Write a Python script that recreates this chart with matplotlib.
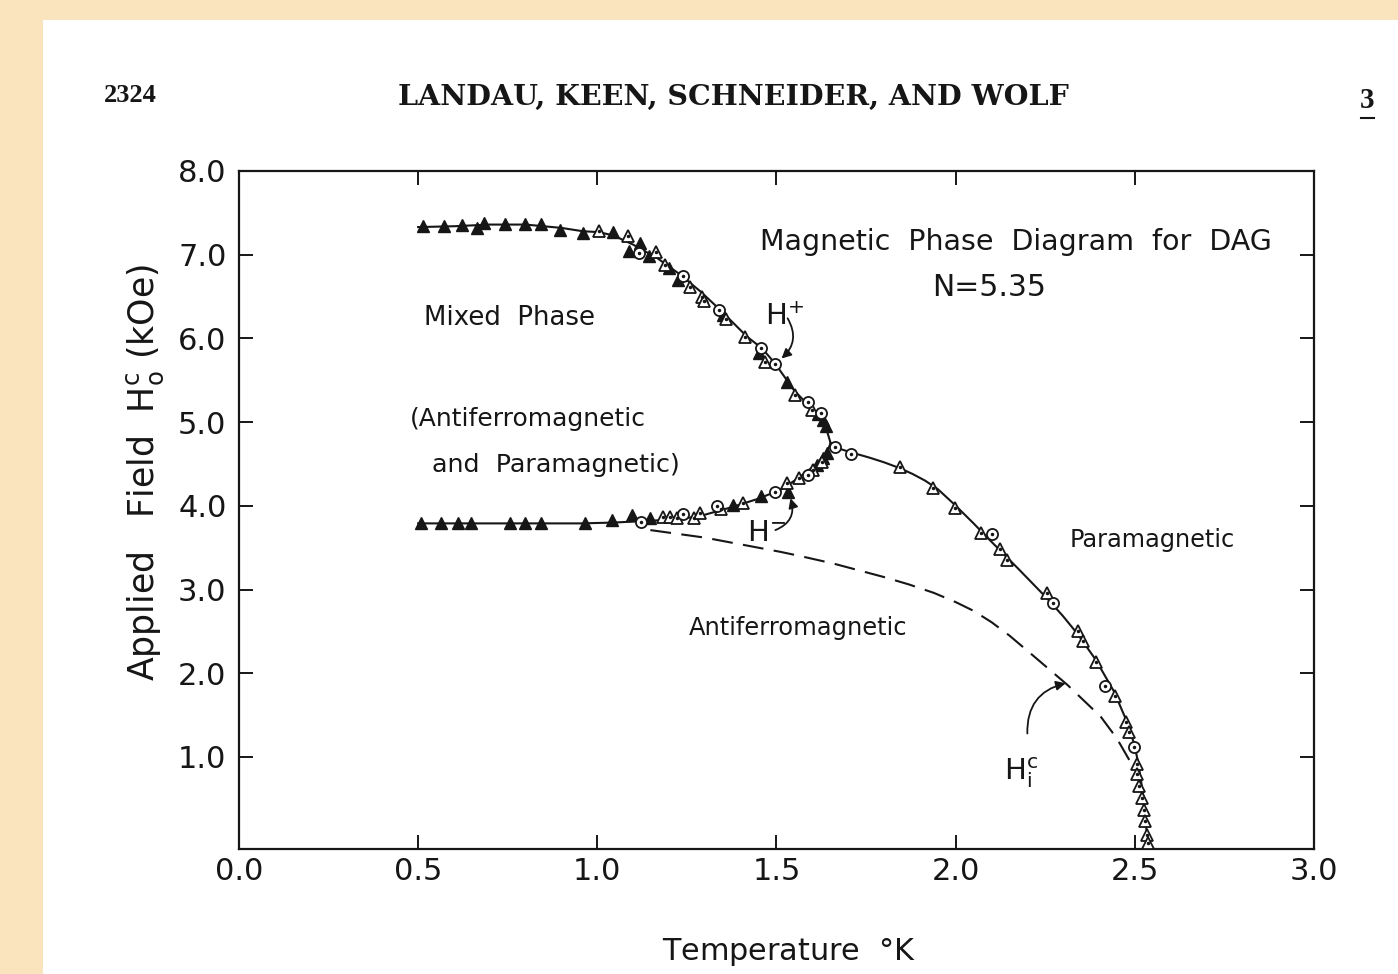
import matplotlib
matplotlib.use('Agg')
import matplotlib.pyplot as plt
from matplotlib.lines import Line2D
from matplotlib.patches import Rectangle

plt.rcParams['font.family'] = 'DejaVu Sans'
plt.rcParams['mathtext.fontset'] = 'custom'
plt.rcParams['mathtext.rm'] = 'DejaVu Sans'
plt.rcParams['mathtext.it'] = 'DejaVu Sans'
plt.rcParams['mathtext.default'] = 'regular'

# ---- data (T in K, H in kOe) ----
x_ticks = [0.0, 0.5, 1.0, 1.5, 2.0, 2.5, 3.0]
x_tick_labels = ['0.0', '0.5', '1.0', '1.5', '2.0', '2.5', '3.0']
y_ticks = [1, 2, 3, 4, 5, 6, 7, 8]
y_tick_labels = ['1.0', '2.0', '3.0', '4.0', '5.0', '6.0', '7.0', '8.0']

# drawn phase boundaries
hplus_T = [0.50, 0.60, 0.70, 0.80, 0.90, 0.96, 1.004, 1.045, 1.10, 1.167, 1.232,
           1.288, 1.343, 1.418, 1.46, 1.496, 1.549, 1.605, 1.637, 1.651]
hplus_H = [7.33, 7.34, 7.36, 7.36, 7.32, 7.28, 7.27, 7.23, 7.12, 6.96, 6.76,
           6.56, 6.34, 6.02, 5.88, 5.70, 5.38, 5.13, 4.95, 4.75]
hminus_T = [0.50, 0.60, 0.70, 0.80, 0.953, 1.046, 1.139, 1.232, 1.297, 1.372,
            1.446, 1.511, 1.557, 1.603, 1.640, 1.651]
hminus_H = [3.79, 3.79, 3.79, 3.79, 3.79, 3.80, 3.82, 3.84, 3.89, 3.98,
            4.08, 4.19, 4.32, 4.47, 4.63, 4.75]
para_T = [1.651, 1.662, 1.707, 1.76, 1.80, 1.844, 1.88, 1.915, 1.95, 1.998,
          2.05, 2.10, 2.172, 2.256, 2.30, 2.34, 2.391, 2.442, 2.475, 2.498,
          2.51, 2.523, 2.536]
para_H = [4.75, 4.70, 4.64, 4.575, 4.52, 4.45, 4.38, 4.30, 4.20, 4.01,
          3.79, 3.57, 3.26, 2.89, 2.68, 2.47, 2.16, 1.78, 1.45, 1.16,
          0.92, 0.55, -0.03]
hic_T = [1.148, 1.30, 1.511, 1.566, 1.659, 1.799, 1.87, 1.939, 2.000, 2.050,
         2.10, 2.15, 2.219, 2.312, 2.405, 2.45, 2.493]
hic_H = [3.71, 3.62, 3.45, 3.40, 3.31, 3.15, 3.06, 2.96, 2.85, 2.745,
         2.61, 2.45, 2.20, 1.86, 1.48, 1.22, 0.90]

# measured points, by symbol
filled_T = [0.513, 0.571, 0.622, 0.664, 0.685, 0.741, 0.797, 0.843, 0.897, 0.960,
            1.045, 1.12, 1.088, 1.143, 1.199, 1.225, 1.351, 1.451, 1.530, 1.616,
            1.630, 1.637,
            0.508, 0.564, 0.612, 0.648, 0.757, 0.799, 0.844, 0.966, 1.041, 1.097,
            1.147, 1.379, 1.458, 1.532, 1.612, 1.631, 1.640]
filled_H = [7.34, 7.34, 7.35, 7.32, 7.38, 7.37, 7.37, 7.37, 7.30, 7.26,
            7.27, 7.14, 7.04, 6.98, 6.84, 6.70, 6.28, 5.82, 5.48, 5.10,
            5.03, 4.95,
            3.80, 3.80, 3.79, 3.80, 3.80, 3.79, 3.79, 3.79, 3.83, 3.89,
            3.85, 4.01, 4.12, 4.17, 4.49, 4.57, 4.63]
opentri_T = [1.004, 1.086, 1.165, 1.19, 1.258, 1.292, 1.299, 1.358, 1.413, 1.468,
             1.551, 1.598,
             1.184, 1.204, 1.223, 1.269, 1.286, 1.344, 1.406, 1.530, 1.562, 1.603,
             1.626,
             1.844, 1.937, 1.998, 2.070, 2.124, 2.142, 2.254, 2.342, 2.354, 2.391,
             2.445, 2.475, 2.483, 2.506, 2.507, 2.512, 2.520, 2.526, 2.529, 2.534,
             2.536]
opentri_H = [7.28, 7.22, 7.03, 6.88, 6.61, 6.50, 6.45, 6.23, 6.02, 5.72,
             5.32, 5.14,
             3.87, 3.87, 3.86, 3.85, 3.91, 3.96, 4.03, 4.27, 4.33, 4.43,
             4.52,
             4.46, 4.21, 3.97, 3.67, 3.49, 3.35, 2.96, 2.51, 2.39, 2.13,
             1.73, 1.42, 1.30, 0.92, 0.80, 0.65, 0.51, 0.37, 0.24, 0.07,
             -0.03]
circle_T = [1.116, 1.239, 1.339, 1.458, 1.496, 1.589, 1.625,
            1.123, 1.239, 1.334, 1.497, 1.589,
            1.662, 1.707, 2.102, 2.273, 2.417, 2.498]
circle_H = [7.02, 6.75, 6.34, 5.89, 5.70, 5.24, 5.11,
            3.81, 3.90, 4.00, 4.16, 4.37,
            4.70, 4.62, 3.66, 2.84, 1.85, 1.12]

INK = '#161616'

fig = plt.figure(figsize=(13.98, 9.74), dpi=100)
fig.patch.set_facecolor('#F9E4BE')
# white scanned page on the beige background
fig.patches.append(Rectangle((43 / 1398, 0), 1 - 43 / 1398, 1 - 20 / 974,
                             transform=fig.transFigure, facecolor='white',
                             edgecolor='none', zorder=-1))

ax = fig.add_axes([239 / 1398, 1 - 849 / 974, 1075 / 1398, 678 / 974])
ax.set_facecolor('white')
for sp in ax.spines.values():
    sp.set_linewidth(1.6)
    sp.set_color(INK)

ax.set_xlim(0, 3.0)
ax.set_ylim(-0.1, 8.0)
ax.set_xticks(x_ticks)
ax.set_xticklabels(x_tick_labels)
ax.set_yticks(y_ticks)
ax.set_yticklabels(y_tick_labels)
ax.tick_params(direction='in', length=10, width=1.4, color=INK,
               top=True, right=True, labelcolor=INK, labelsize=22)
ax.tick_params(axis='x', pad=6)
ax.tick_params(axis='y', pad=9)

# boundaries
lw = 1.5
ax.plot(hplus_T, hplus_H, color=INK, lw=lw, zorder=2)
ax.plot(hminus_T, hminus_H, color=INK, lw=lw, zorder=2)
ax.plot(para_T, para_H, color=INK, lw=lw, zorder=2)
ax.plot(hic_T, hic_H, color=INK, lw=lw, dashes=(10, 5), zorder=2)

# symbols
ax.plot(filled_T, filled_H, ls='none', marker='^', ms=9, color=INK, zorder=3,
        clip_on=False)
ax.plot(opentri_T, opentri_H, ls='none', marker='^', ms=9, mfc='white',
        mec=INK, mew=1.3, zorder=3, clip_on=False)
ax.plot(opentri_T, opentri_H, ls='none', marker='.', ms=3, color=INK, zorder=4,
        clip_on=False)
ax.plot(circle_T, circle_H, ls='none', marker='o', ms=8, mfc='white',
        mec=INK, mew=1.3, zorder=3)
ax.plot(circle_T, circle_H, ls='none', marker='.', ms=3, color=INK, zorder=4)

# region labels
ax.text(2.168, 7.15, 'Magnetic  Phase  Diagram  for  DAG', ha='center',
        va='center', fontsize=20.5, color=INK)
ax.text(2.092, 6.61, 'N=5.35', ha='center', va='center', fontsize=21.5, color=INK)
ax.text(0.754, 6.24, 'Mixed  Phase', ha='center', va='center', fontsize=18.7, color=INK)
ax.text(0.478, 5.04, '(Antiferromagnetic', ha='left', va='center', fontsize=18, color=INK)
ax.text(0.539, 4.49, 'and  Paramagnetic)', ha='left', va='center', fontsize=18.3, color=INK)
ax.text(2.550, 3.59, 'Paramagnetic', ha='center', va='center', fontsize=17.3, color=INK)
ax.text(1.559, 2.54, 'Antiferromagnetic', ha='center', va='center', fontsize=17.4, color=INK)

# curve labels with arrows
ax.text(1.468, 6.16, r'H$^{+}$', ha='left', va='baseline', fontsize=21, color=INK)
ax.text(1.418, 3.58, r'H$^{-}$', ha='left', va='baseline', fontsize=21, color=INK)
ax.text(2.136, 0.73, r'H$_{i}^{c}$', ha='left', va='baseline', fontsize=21, color=INK)
arrow = dict(arrowstyle='-|>', color=INK, lw=1.3, shrinkA=0, shrinkB=0,
             mutation_scale=14)
ax.annotate('', xy=(1.514, 5.76), xytext=(1.531, 6.24),
            arrowprops=dict(arrow, connectionstyle='arc3,rad=-0.4'))
ax.annotate('', xy=(1.539, 4.09), xytext=(1.497, 3.71),
            arrowprops=dict(arrow, connectionstyle='arc3,rad=0.45'))
ax.annotate('', xy=(2.307, 1.88), xytext=(2.200, 1.28),
            arrowprops=dict(arrow, connectionstyle='arc3,rad=-0.4'))

# axis labels
ax.set_xlabel(r'Temperature  $\degree$K', fontsize=21.8, color=INK, va='top')
ax.xaxis.set_label_coords(0.5116, -0.128)
ax.set_ylabel(r'Applied   Field  H$_{o}^{c}$ (kOe)', fontsize=25, color=INK)
ax.yaxis.set_label_coords(-0.068, 0.555)

# running head of the journal page
fig.text(130 / 1398, 1 - 95 / 974, '2324', family='Liberation Serif',
         weight='bold', fontsize=19, ha='center', va='center', color=INK)
fig.text(733 / 1398, 1 - 97 / 974, 'LANDAU, KEEN, SCHNEIDER, AND WOLF',
         family='DejaVu Serif', weight='bold', fontsize=20.5, ha='center',
         va='center', color=INK)
fig.text(1367 / 1398, 1 - 100 / 974, '3', family='Liberation Serif',
         weight='bold', fontsize=21, ha='center', va='center', color=INK)
fig.lines.append(Line2D([1361 / 1398, 1374 / 1398], [1 - 118 / 974, 1 - 118 / 974],
                        transform=fig.transFigure, color=INK, lw=1.5))

fig.savefig('out.png', dpi=100, facecolor=fig.get_facecolor())
